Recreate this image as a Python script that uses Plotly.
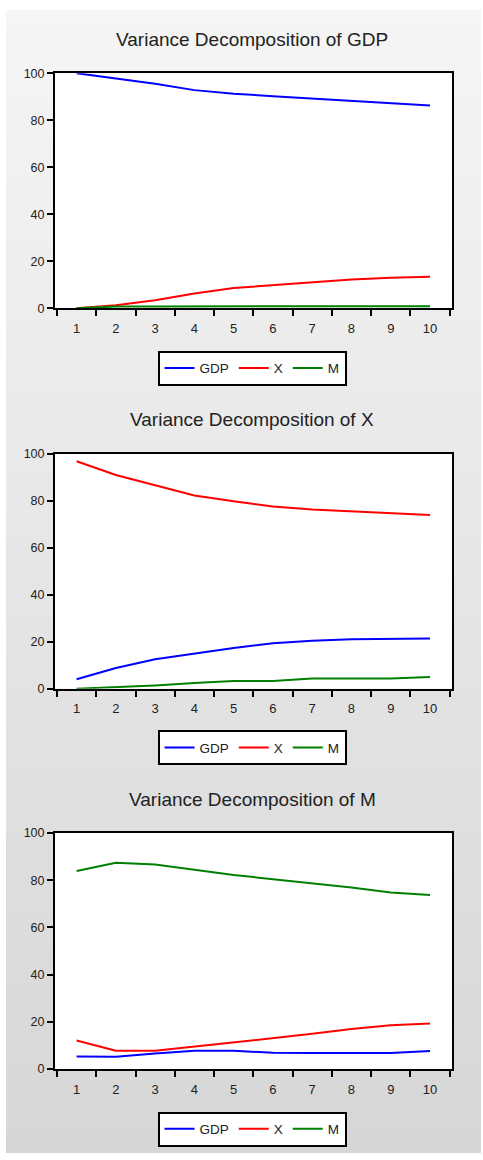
import plotly.graph_objects as go

periods = [1, 2, 3, 4, 5, 6, 7, 8, 9, 10]
series_names = ["GDP", "X", "M"]
series_colors = ["#0000ff", "#ff0000", "#008000"]

# Variance decomposition of GDP
gdp_gdp = [100.0, 97.9, 95.5, 92.8, 91.3, 90.2, 89.2, 88.2, 87.3, 86.3]
gdp_x = [0.0, 1.3, 3.4, 6.3, 8.6, 9.9, 11.2, 12.3, 13.0, 13.4]
gdp_m = [0.0, 0.8, 0.8, 0.9, 0.9, 0.9, 0.9, 0.9, 0.9, 0.9]

# Variance decomposition of X
x_gdp = [4.0, 8.8, 12.5, 14.9, 17.3, 19.3, 20.4, 21.0, 21.0, 21.3]
x_x = [96.7, 90.9, 86.5, 82.2, 79.7, 77.5, 76.2, 75.5, 74.8, 73.9]
x_m = [0.0, 0.6, 1.4, 2.4, 3.3, 3.3, 4.3, 4.3, 4.3, 5.0]

# Variance decomposition of M
m_gdp = [5.3, 5.2, 6.6, 7.7, 7.7, 6.9, 6.8, 6.8, 6.8, 7.6]
m_x = [12.1, 7.7, 7.7, 9.5, 11.1, 13.0, 14.9, 17.0, 18.5, 19.3]
m_m = [83.9, 87.4, 86.6, 84.3, 82.2, 80.4, 78.7, 76.9, 74.8, 73.7]

titles = ["Variance Decomposition of GDP", "Variance Decomposition of X",
          "Variance Decomposition of M"]
panels = [[gdp_gdp, gdp_x, gdp_m], [x_gdp, x_x, x_m], [m_gdp, m_x, m_m]]
y_ticks = [0, 20, 40, 60, 80, 100]

W, H = 483, 1160
FONT = "Liberation Sans, Arial, sans-serif"

def py(p):
    return 1 - p / H

# pixel layout
x_dom = [55 / W, 452 / W]
y_doms = [(67, 305), (452, 690), (836, 1075)]
title_y = [33, 418, 802]
legend_top = [348, 732, 1118]

fig = go.Figure()
shapes = []
# gradient background (overlapping bands to avoid seams)
top, bottom = 3, H
n = 116
for i in range(n):
    y0 = top + (bottom - top) * i / n
    y1 = min(bottom, top + (bottom - top) * (i + 1) / n + 2)
    c = round(245 - (245 - 214) * (i + 0.5) / n)
    shapes.append(dict(type="rect", xref="paper", yref="paper", x0=6 / W, x1=481 / W,
                       y0=py(y1), y1=py(y0), fillcolor=f"rgb({c},{c},{c})",
                       line=dict(width=0), layer="below"))

annotations = []
for k in range(3):
    idx = "" if k == 0 else str(k + 1)
    legname = "legend" + idx
    t, b = y_doms[k]
    shapes.append(dict(type="rect", xref="paper", yref="paper", x0=x_dom[0], x1=x_dom[1],
                       y0=py(b), y1=py(t), fillcolor="white", line=dict(width=0),
                       layer="below"))
    for s in range(3):
        fig.add_trace(go.Scatter(
            x=periods, y=panels[k][s], mode="lines", name=series_names[s],
            line=dict(color=series_colors[s], width=2),
            xaxis="x" + idx, yaxis="y" + idx, legend=legname, showlegend=True,
            hoverinfo="skip"))
    fig.layout["xaxis" + idx] = dict(
        domain=x_dom, anchor="y" + idx, range=[0.45, 10.56],
        tickmode="array", tickvals=periods, ticktext=[str(p) for p in periods],
        ticks="outside", ticklen=7, tickcolor="rgba(0,0,0,0)",
        minor=dict(tickmode="array", tickvals=[p - 0.5 for p in periods] + [10.5],
                   ticks="outside", ticklen=6, tickwidth=2, tickcolor="black"),
        showline=True, linecolor="black", linewidth=2, mirror=True,
        showgrid=False, zeroline=False, fixedrange=True,
        tickfont=dict(family=FONT, size=13, color="#222"))
    fig.layout["yaxis" + idx] = dict(
        domain=[py(b), py(t)], anchor="x" + idx, range=[0, 100],
        tickmode="array", tickvals=y_ticks,
        ticks="outside", ticklen=6, tickwidth=2, tickcolor="black",
        showline=True, linecolor="black", linewidth=2, mirror=True,
        showgrid=False, zeroline=False, fixedrange=True,
        tickfont=dict(family=FONT, size=12.5, color="#222"))
    fig.layout[legname] = dict(
        orientation="h", x=252 / W, xanchor="center", y=py(legend_top[k]), yanchor="top",
        bgcolor="white", bordercolor="black", borderwidth=2,
        font=dict(family=FONT, size=13.5, color="#222"))
    annotations.append(dict(text=titles[k], xref="paper", yref="paper", x=252 / W,
                            y=py(title_y[k]), xanchor="center", yanchor="middle",
                            showarrow=False,
                            font=dict(family=FONT, size=19, color="#222")))

fig.update_layout(width=W, height=H, margin=dict(l=0, r=0, t=0, b=0),
                  paper_bgcolor="white", plot_bgcolor="rgba(0,0,0,0)",
                  shapes=shapes, annotations=annotations, hovermode=False)
fig.write_html("out.html", config={"displayModeBar": False, "staticPlot": True},
               post_script="document.body.style.margin='0';document.body.style.overflow='hidden';")
